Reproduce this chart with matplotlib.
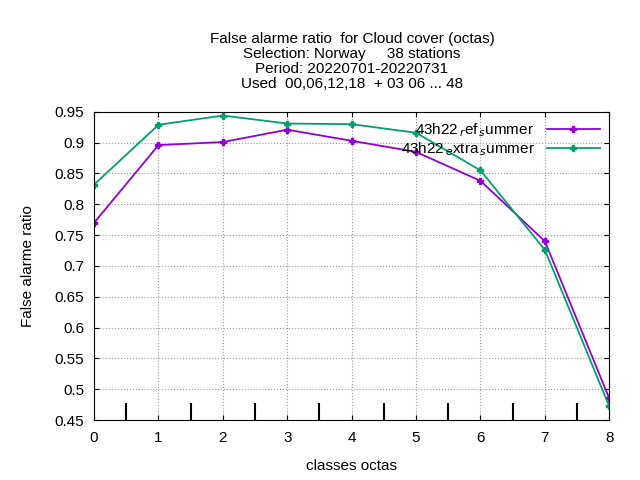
import matplotlib
matplotlib.use("Agg")
import matplotlib.pyplot as plt

octas = [0, 1, 2, 3, 4, 5, 6, 7, 8]
ref_summer = [0.770, 0.896, 0.901, 0.921, 0.903, 0.885, 0.838, 0.740, 0.485]
extra_summer = [0.832, 0.929, 0.944, 0.931, 0.930, 0.916, 0.855, 0.726, 0.472]
yticks = [0.45, 0.5, 0.55, 0.6, 0.65, 0.7, 0.75, 0.8, 0.85, 0.9, 0.95]

plt.rcParams['font.family'] = ['Liberation Sans', 'DejaVu Sans']
fig = plt.figure(figsize=(6.4, 4.8), dpi=100)
ax = fig.add_axes([0.147, 0.125, 0.805, 0.642])

ax.plot(octas, ref_summer, color='#9400d3', marker='P', markersize=5,
        lw=1.3, label='43h22$_{\\,r}$ef$_{\\,s}$ummer')
ax.plot(octas, extra_summer, color='#009e73', marker='P', markersize=5,
        lw=1.3, label='43h22$_{\\,e}$xtra$_{\\,s}$ummer')

ax.set_xlim(0, 8)
ax.set_ylim(0.45, 0.95)
ax.set_xticks(octas)
ax.set_yticks(yticks)
ax.set_yticklabels([f'{v:g}' for v in yticks])
ax.set_xticks([x + 0.5 for x in octas[:-1]], minor=True)
ax.tick_params(axis='x', which='minor', direction='in', length=12, width=1.5, top=False)
ax.tick_params(which='major', direction='in', top=True, right=True, labelsize=11)
ax.tick_params(axis='x', which='major', pad=8)
ax.tick_params(axis='y', which='major', pad=7)
ax.grid(True, which='major', linestyle=':', color='#999999', lw=0.8)

ax.set_xlabel('classes octas', fontsize=11, labelpad=10)
ax.set_ylabel('False alarme ratio', fontsize=11, labelpad=14)
fig.text(0.55, 0.81, 'False alarme ratio  for Cloud cover (octas)\n'
         'Selection: Norway     38 stations\n'
         'Period: 20220701-20220731\n'
         'Used  00,06,12,18  + 03 06 ... 48',
         ha='center', va='bottom', fontsize=11, linespacing=1.1)

ax.legend(loc='upper right', frameon=False, markerfirst=False, fontsize=11,
          handlelength=3.5, borderaxespad=0.2, labelspacing=0.1)

fig.savefig('out.png')
